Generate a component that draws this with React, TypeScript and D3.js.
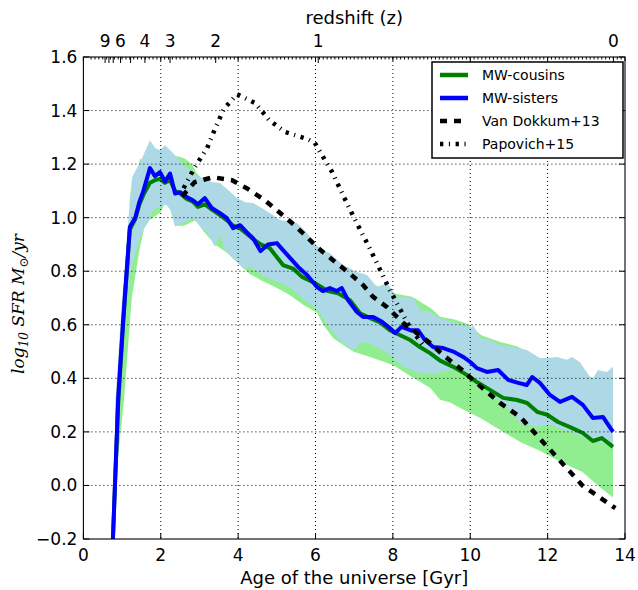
import React from "react";
import * as d3 from "d3";

type P = [number, number];

const ageTicks = [0, 2, 4, 6, 8, 10, 12, 14];
const sfrTicks = [-0.2, 0, 0.2, 0.4, 0.6, 0.8, 1.0, 1.2, 1.4, 1.6];
const zTicks = [0, 1, 2, 3, 4, 5, 6, 7, 8, 9];
const zTickAges = [13.7, 6.07, 3.42, 2.24, 1.59, 1.22, 0.96, 0.77, 0.66, 0.56];
const zLabelled = [0, 1, 2, 3, 4, 6, 9];

const sisters: P[] = [
  [0.75, -0.25], [0.9, 0.33], [1.03, 0.62], [1.2, 0.965], [1.34, 1.0], [1.45, 1.06], [1.55, 1.1],
  [1.72, 1.185], [1.85, 1.155], [1.98, 1.17], [2.11, 1.135], [2.24, 1.165], [2.37, 1.09], [2.5, 1.095],
  [2.67, 1.077], [2.83, 1.065], [2.96, 1.05], [3.14, 1.073], [3.32, 1.036], [3.53, 1.017], [3.71, 0.998],
  [3.87, 0.961], [4.05, 0.972], [4.22, 0.946], [4.39, 0.922], [4.58, 0.875], [4.77, 0.9], [5.0, 0.905],
  [5.16, 0.879], [5.34, 0.85], [5.55, 0.816], [5.78, 0.786], [6.04, 0.741], [6.19, 0.726], [6.37, 0.737],
  [6.55, 0.726], [6.68, 0.737], [6.84, 0.692], [7.07, 0.648], [7.23, 0.629], [7.49, 0.629], [7.72, 0.611],
  [7.92, 0.588], [8.06, 0.569], [8.22, 0.592], [8.45, 0.58], [8.65, 0.58], [8.83, 0.543], [9.04, 0.517],
  [9.3, 0.513], [9.56, 0.5], [9.82, 0.48], [10.0, 0.461], [10.17, 0.438], [10.43, 0.424], [10.72, 0.431],
  [10.98, 0.394], [11.24, 0.383], [11.46, 0.375], [11.6, 0.405], [11.8, 0.383], [12.06, 0.338],
  [12.32, 0.312], [12.63, 0.331], [12.91, 0.301], [13.17, 0.252], [13.43, 0.256], [13.69, 0.2],
];

const cousins: P[] = [
  [0.75, -0.25], [0.9, 0.31], [1.03, 0.61], [1.2, 0.955], [1.34, 0.995], [1.45, 1.05], [1.55, 1.085],
  [1.72, 1.13], [1.85, 1.14], [1.98, 1.145], [2.11, 1.13], [2.24, 1.14], [2.37, 1.1], [2.5, 1.09],
  [2.67, 1.07], [2.83, 1.06], [2.96, 1.04], [3.14, 1.05], [3.32, 1.03], [3.53, 1.01], [3.71, 0.99],
  [3.87, 0.97], [4.05, 0.96], [4.22, 0.94], [4.39, 0.92], [4.58, 0.9], [4.82, 0.886], [5.16, 0.823],
  [5.42, 0.81], [5.65, 0.779], [5.98, 0.756], [6.3, 0.727], [6.58, 0.718], [6.89, 0.692], [7.15, 0.643],
  [7.41, 0.625], [7.66, 0.61], [7.92, 0.58], [8.19, 0.561], [8.45, 0.543], [8.7, 0.517], [8.96, 0.494],
  [9.22, 0.466], [9.56, 0.443], [9.91, 0.413], [10.17, 0.386], [10.51, 0.357], [10.85, 0.327],
  [11.21, 0.319], [11.47, 0.308], [11.73, 0.275], [11.99, 0.264], [12.27, 0.237], [12.58, 0.218],
  [12.91, 0.196], [13.17, 0.166], [13.4, 0.177], [13.69, 0.144],
];

const sistersUpper: P[] = [
  [0.8, 0.05], [0.83, 0.32], [1.0, 0.7], [1.12, 0.9], [1.2, 1.07], [1.26, 1.151], [1.51, 1.22],
  [1.72, 1.289], [1.85, 1.26], [1.98, 1.252], [2.11, 1.27], [2.29, 1.245], [2.42, 1.226], [2.58, 1.196],
  [2.76, 1.178], [2.88, 1.159], [3.09, 1.148], [3.32, 1.133], [3.53, 1.129], [3.74, 1.103], [3.97, 1.073],
  [4.18, 1.058], [4.39, 1.055], [4.61, 1.036], [4.82, 1.017], [5.08, 0.991], [5.52, 0.98], [5.78, 0.943],
  [6.12, 0.879], [6.37, 0.868], [6.71, 0.823], [7.07, 0.797], [7.33, 0.786], [7.59, 0.741], [7.85, 0.756],
  [8.1, 0.704], [8.53, 0.7], [8.7, 0.655], [8.96, 0.648], [9.22, 0.625], [9.48, 0.611], [9.82, 0.599],
  [10.02, 0.588], [10.07, 0.6], [10.26, 0.55], [10.51, 0.543], [10.77, 0.524], [11.1, 0.517],
  [11.46, 0.506], [11.8, 0.476], [11.99, 0.476], [12.24, 0.48], [12.5, 0.469], [12.63, 0.48],
  [12.83, 0.461], [13.15, 0.394], [13.3, 0.431], [13.53, 0.424], [13.69, 0.443],
];

const sistersLower: P[] = [
  [0.84, 0.05], [0.95, 0.32], [1.1, 0.65], [1.22, 0.8], [1.33, 0.86], [1.51, 0.946], [1.68, 0.984],
  [1.8, 1.03], [1.98, 1.04], [2.11, 1.05], [2.24, 1.036], [2.37, 0.966], [2.58, 0.98], [2.84, 0.999],
  [3.02, 0.966], [3.22, 0.942], [3.4, 0.89], [3.53, 0.935], [3.66, 0.879], [3.97, 0.834], [4.13, 0.81],
  [4.31, 0.816], [4.61, 0.786], [4.88, 0.767], [5.08, 0.756], [5.34, 0.74], [5.68, 0.695], [6.04, 0.66],
  [6.3, 0.6], [6.6, 0.545], [6.97, 0.505], [7.2, 0.535], [7.41, 0.531], [7.85, 0.494], [8.27, 0.443],
  [8.7, 0.42], [9.13, 0.42], [9.48, 0.431], [10.0, 0.42], [10.1, 0.383], [10.51, 0.346], [10.95, 0.294],
  [11.29, 0.234], [11.73, 0.219], [12.06, 0.226], [12.58, 0.2], [12.91, 0.181], [13.27, 0.162],
  [13.69, 0.151],
];

const cousinsUpper: P[] = [
  [0.8, 0.05], [0.83, 0.3], [1.0, 0.68], [1.2, 1.0], [1.46, 1.22], [1.7, 1.2], [2.0, 1.2], [2.3, 1.2],
  [2.42, 1.23], [2.63, 1.22], [2.8, 1.2], [2.93, 1.166], [3.1, 1.14], [3.5, 1.12], [4.0, 1.06],
  [4.5, 1.03], [5.0, 0.98], [5.5, 0.95], [6.0, 0.9], [6.5, 0.84], [7.0, 0.79], [7.5, 0.75], [8.1, 0.715],
  [8.5, 0.705], [9.0, 0.66], [9.22, 0.63], [9.6, 0.62], [9.9, 0.605], [10.3, 0.56], [10.8, 0.535],
  [11.2, 0.52], [11.6, 0.49], [12.0, 0.46], [12.5, 0.44], [13.0, 0.41], [13.69, 0.38],
];

const cousinsLower: P[] = [
  [0.86, 0.05], [1.05, 0.32], [1.25, 0.7], [1.45, 0.88], [1.6, 0.98], [1.8, 1.0], [1.98, 1.017],
  [2.11, 1.054], [2.25, 1.03], [2.37, 0.97], [2.6, 0.97], [2.9, 0.99], [3.1, 0.95], [3.4, 0.9],
  [3.7, 0.87], [4.0, 0.83], [4.3, 0.79], [4.6, 0.765], [4.9, 0.745], [5.1, 0.73], [5.34, 0.71],
  [5.68, 0.675], [6.04, 0.645], [6.2, 0.6], [6.46, 0.55], [6.97, 0.5], [7.41, 0.48], [8.0, 0.45],
  [8.44, 0.41], [8.96, 0.365], [9.22, 0.32], [9.48, 0.31], [9.74, 0.289], [10.26, 0.252], [10.77, 0.207],
  [11.29, 0.162], [11.8, 0.13], [12.3, 0.09], [12.9, 0.05], [13.3, 0.0], [13.69, -0.045],
];

const vanDokkum: P[] = [
  [2.55, 1.08], [2.88, 1.133], [3.35, 1.151], [3.84, 1.14], [4.22, 1.11], [4.65, 1.069], [5.0, 1.028],
  [5.39, 0.98], [5.73, 0.935], [6.04, 0.89], [6.46, 0.84], [6.84, 0.797], [7.23, 0.748], [7.49, 0.704],
  [7.85, 0.666], [8.27, 0.606], [8.62, 0.569], [8.96, 0.532], [9.3, 0.487], [9.79, 0.431], [10.07, 0.394],
  [10.77, 0.308], [11.29, 0.256], [11.8, 0.175], [12.9, 0.0], [13.75, -0.085],
];

const papovich: P[] = [
  [2.59, 1.11], [2.88, 1.189], [3.2, 1.26], [3.4, 1.331], [3.63, 1.406], [3.97, 1.461], [4.44, 1.428],
  [4.8, 1.365], [5.21, 1.32], [5.78, 1.294], [5.98, 1.28], [6.12, 1.245], [6.43, 1.17], [6.89, 1.03],
  [7.4, 0.886], [7.92, 0.73], [8.44, 0.59], [8.8, 0.52],
];

const legendItems = [
  { label: "MW-cousins", color: "#008000", dash: "" },
  { label: "MW-sisters", color: "#0000ff", dash: "" },
  { label: "Van Dokkum+13", color: "#000", dash: "7,7" },
  { label: "Papovich+15", color: "#000", dash: "3.3,5.6,1.1,5.6" },
];

const W = 638;
const H = 590;
const L = 83.4, R = 625, T = 57, B = 539;

export default function App() {
  const x = d3.scaleLinear().domain([0, 14]).range([L, R]);
  const y = d3.scaleLinear().domain([-0.2, 1.6]).range([B, T]);
  const line = d3.line<P>().x((d) => x(d[0])).y((d) => y(d[1]));
  const band = (up: P[], lo: P[]) => (line([...up, ...lo.slice().reverse()]) || "") + "Z";
  const minorAges = d3.range(0.2, 13.95, 0.1);
  const font = "DejaVu Sans, sans-serif";

  return (
    <svg width={W} height={H} style={{ position: "absolute", left: 0, top: 0, background: "#fff" }}>
      <defs>
        <clipPath id="plot">
          <rect x={L} y={T} width={R - L} height={B - T} />
        </clipPath>
      </defs>
      <rect x={0} y={0} width={W} height={H} fill="#fff" />
      <g clipPath="url(#plot)">
        <path d={band(cousinsUpper, cousinsLower)} fill="#90ee90" stroke="none" />
        <path d={band(sistersUpper, sistersLower)} fill="#add8e6" stroke="none" />
        <path d={line(cousins) || ""} fill="none" stroke="#008000" strokeWidth={4} strokeLinejoin="round" />
        <path d={line(sisters) || ""} fill="none" stroke="#0000ff" strokeWidth={4} strokeLinejoin="round" />
        <path d={line(vanDokkum) || ""} fill="none" stroke="#000" strokeWidth={4.5} strokeDasharray="7,7" />
        <path d={line(papovich) || ""} fill="none" stroke="#000" strokeWidth={4.5} strokeDasharray="3.3,5.6,1.1,5.6" />
      </g>
      <g stroke="#000" strokeWidth={1} strokeDasharray="1,3">
        {ageTicks.slice(1, -1).map((t) => (
          <line key={"gx" + t} x1={x(t)} x2={x(t)} y1={T} y2={B} />
        ))}
        {sfrTicks.slice(1, -1).map((v) => (
          <line key={"gy" + v} x1={L} x2={R} y1={y(v)} y2={y(v)} />
        ))}
      </g>
      <g stroke="#000" strokeWidth={1}>
        {ageTicks.map((t) => (
          <line key={"bt" + t} x1={x(t)} x2={x(t)} y1={B} y2={B - 6} />
        ))}
        {ageTicks.map((t) => (
          <line key={"tt" + t} x1={x(t)} x2={x(t)} y1={T} y2={T + 4} />
        ))}
        {sfrTicks.map((v) => (
          <g key={"yt" + v}>
            <line x1={L} x2={L + 6} y1={y(v)} y2={y(v)} />
            <line x1={R} x2={R - 6} y1={y(v)} y2={y(v)} />
          </g>
        ))}
        {minorAges.map((a) => (
          <line key={"mz" + a} x1={x(a)} x2={x(a)} y1={T} y2={T + 2.5} />
        ))}
        {zTickAges.map((a, i) => (
          <line key={"zt" + i} x1={x(a)} x2={x(a)} y1={T} y2={T + 6} />
        ))}
      </g>
      <rect x={L} y={T} width={R - L} height={B - T} fill="none" stroke="#000" strokeWidth={1.1} />
      <g fontFamily={font} fontSize={17} fill="#000">
        {ageTicks.map((t) => (
          <text key={"bl" + t} x={x(t)} y={B + 22} textAnchor="middle">{t}</text>
        ))}
        {sfrTicks.map((v) => (
          <text key={"yl" + v} x={L - 6} y={y(v) + 6} textAnchor="end">
            {v < 0 ? "\u2212" + Math.abs(v).toFixed(1) : v.toFixed(1)}
          </text>
        ))}
        {zTicks.map((z, i) =>
          zLabelled.includes(z) ? (
            <text key={"zl" + z} x={x(zTickAges[i])} y={T - 10} textAnchor="middle">{z}</text>
          ) : null
        )}
      </g>
      <text x={(L + R) / 2} y={584} textAnchor="middle" fontFamily={font} fontSize={18}>
        Age of the universe [Gyr]
      </text>
      <text x={(L + R) / 2} y={24} textAnchor="middle" fontFamily={font} fontSize={18}>
        redshift (z)
      </text>
      <text
        transform={`translate(24, ${(T + B) / 2 + 6}) rotate(-90)`}
        textAnchor="middle"
        fontFamily="DejaVu Serif, serif"
        fontStyle="italic"
        fontSize={17}
      >
        <tspan>log</tspan>
        <tspan fontSize={12} dy={4}>10</tspan>
        <tspan dy={-4}> SFR M</tspan>
        <tspan fontSize={12} dy={4} fontStyle="normal">{"\u2299"}</tspan>
        <tspan dy={-4}>/yr</tspan>
      </text>
      <g>
        <rect x={432} y={62} width={191} height={96} fill="#fff" stroke="#000" strokeWidth={1.5} />
        {legendItems.map((it, i) => (
          <g key={it.label}>
            <line
              x1={440}
              x2={468}
              y1={75 + i * 23}
              y2={75 + i * 23}
              stroke={it.color}
              strokeWidth={4.5}
              strokeDasharray={it.dash || undefined}
            />
            <text x={482} y={75 + i * 23 + 5} fontFamily={font} fontSize={14}>{it.label}</text>
          </g>
        ))}
      </g>
    </svg>
  );
}
